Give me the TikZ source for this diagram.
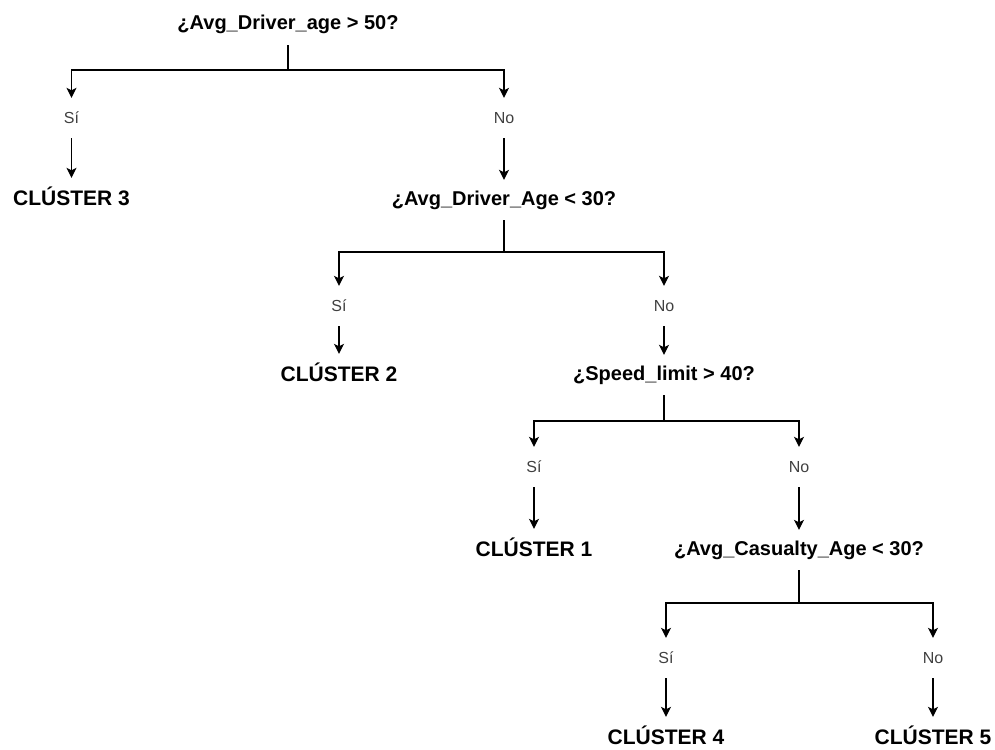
\documentclass[tikz,border=0pt]{standalone}
\usepackage{fontspec}
\setmainfont{Liberation Sans}
\usetikzlibrary{arrows.meta}
\definecolor{lblgray}{HTML}{404040}
\tikzset{
  qnode/.style={inner sep=0pt, minimum height=40pt, text height=14pt, text depth=4pt,
    font=\fontsize{20}{24}\selectfont\bfseries},
  cnode/.style={inner sep=0pt, minimum height=40pt, text height=15pt, text depth=0pt,
    font=\fontsize{21}{25}\selectfont\bfseries},
  lnode/.style={inner sep=0pt, minimum height=40pt, text height=11.5pt, text depth=0pt,
    text=lblgray, font=\fontsize{16}{19}\selectfont},
  conn/.style={line width=1.2pt, draw=black},
  arr/.style={conn, -{Stealth[width=10pt,length=10pt,inset=2.5pt]}}
}
\begin{document}
\begin{tikzpicture}[x=1pt,y=-1pt]
\useasboundingbox (0,0) rectangle (995,749);

% level 1
\node[qnode] (q1) at (288,25) {¿Avg\_Driver\_age > 50?};
\coordinate (b1) at (288,70);
\node[lnode] (s1) at (71.5,118) {Sí};
\node[lnode] (n1) at (504,118) {No};
\node[cnode] (c3) at (71.5,198) {CLÚSTER 3};
\node[qnode] (q2) at (504,200) {¿Avg\_Driver\_Age < 30?};

% level 2
\coordinate (b2) at (504,252);
\node[lnode] (s2) at (339,306) {Sí};
\node[lnode] (n2) at (664,306) {No};
\node[cnode] (c2) at (339,374) {CLÚSTER 2};
\node[qnode] (q3) at (664,375) {¿Speed\_limit > 40?};

% level 3
\coordinate (b3) at (664,421);
\node[lnode] (s3) at (534,467) {Sí};
\node[lnode] (n3) at (799,467) {No};
\node[cnode] (c1) at (534,549) {CLÚSTER 1};
\node[qnode] (q4) at (799,550) {¿Avg\_Casualty\_Age < 30?};

% level 4
\coordinate (b4) at (799,603);
\node[lnode] (s4) at (666,658) {Sí};
\node[lnode] (n4) at (933,658) {No};
\node[cnode] (c4) at (666,737) {CLÚSTER 4};
\node[cnode] (c5) at (933,737) {CLÚSTER 5};

% connectors
\foreach \q/\b/\s/\n/\cs/\cn in {q1/b1/s1/n1/c3/q2, q2/b2/s2/n2/c2/q3, q3/b3/s3/n3/c1/q4, q4/b4/s4/n4/c4/c5}{
  \draw[conn] (\q.south) -- (\b);
  \draw[arr] (\b) -| (\s.north);
  \draw[arr] (\b) -| (\n.north);
  \draw[arr] (\s.south) -- (\s.south |- \cs.north);
  \draw[arr] (\n.south) -- (\n.south |- \cn.north);
}
\end{tikzpicture}
\end{document}
